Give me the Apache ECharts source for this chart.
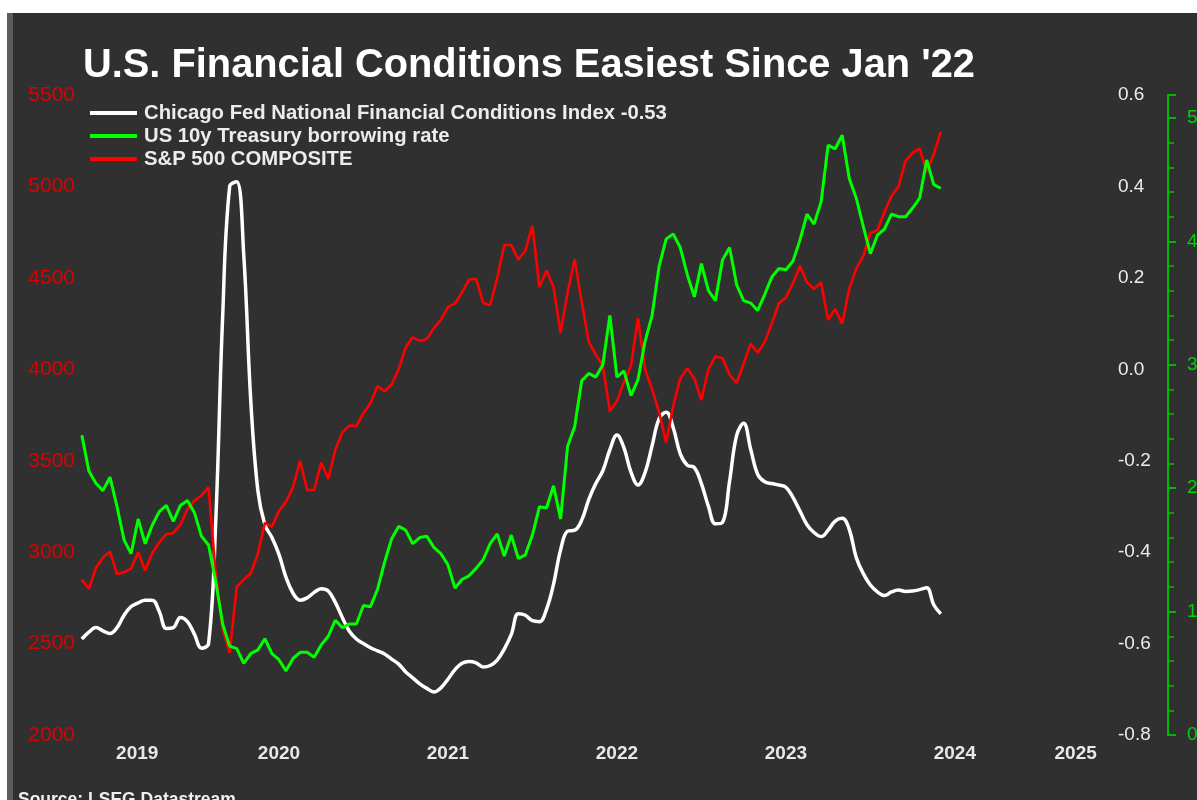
<!DOCTYPE html>
<html><head><meta charset="utf-8">
<script src="https://cdn.jsdelivr.net/npm/echarts/dist/echarts.min.js"></script>
<style>
html,body{margin:0;padding:0;background:#fff;width:1197px;height:800px;overflow:hidden}
#panel{position:absolute;left:7px;top:13px;width:1190px;height:787px;background:#303030;box-sizing:border-box;border-left:6px solid #5c5c5c}
#chart{position:absolute;left:0;top:0;width:1197px;height:800px}
</style></head><body>
<div id="panel"></div><div id="chart"></div>
<script>
// first observation: start of May 2019, half-monthly steps
const START_YEAR = 2019, START_MONTH = 5, STEPS_PER_YEAR = 24;
const X_MIN = 2019.3225, X_MAX = 2025.43;
const X_LABEL_YEARS = [2019, 2020, 2021, 2022, 2023, 2024, 2025];

const SERIES_NAMES = [
  'Chicago Fed National Financial Conditions Index -0.53',
  'US 10y Treasury borrowing rate',
  'S&P 500 COMPOSITE'
];

const SP500 = [
  2850, 2800, 2913, 2970, 3003, 2880, 2890, 2910, 3000, 2900,
  2995, 3053, 3098, 3105, 3150, 3235, 3281, 3310, 3355, 2890,
  2580, 2450, 2810, 2850, 2885, 2990, 3160, 3140, 3225, 3275,
  3355, 3500, 3340, 3340, 3490, 3400, 3560, 3655, 3692, 3690,
  3760, 3815, 3908, 3880, 3915, 4000, 4120, 4175, 4155, 4165,
  4225, 4270, 4340, 4360, 4420, 4490, 4495, 4363, 4350, 4500,
  4680, 4680, 4600, 4650, 4784, 4450, 4540, 4450, 4200, 4420,
  4600, 4370, 4150, 4080, 4020, 3770, 3825, 3930, 4020, 4280,
  4000, 3890, 3765, 3600, 3800, 3950, 4005, 3950, 3832, 4000,
  4070, 4060, 3970, 3925, 4030, 4140, 4090, 4150, 4250, 4360,
  4392, 4470, 4565, 4475, 4440, 4475, 4270, 4330, 4250, 4440,
  4550, 4620, 4745, 4760, 4860, 4948, 5000, 5140, 5183, 5207,
  5080, 5175, 5298
];

const YIELD10 = [
  2.43, 2.14, 2.04, 1.98, 2.09, 1.85, 1.58, 1.47, 1.75, 1.55,
  1.70, 1.81, 1.86, 1.73, 1.86, 1.90, 1.80, 1.61, 1.54, 1.25,
  0.90, 0.72, 0.70, 0.58, 0.66, 0.69, 0.78, 0.66, 0.61, 0.52,
  0.62, 0.67, 0.67, 0.63, 0.73, 0.80, 0.93, 0.87, 0.90, 0.90,
  1.05, 1.04, 1.18, 1.40, 1.59, 1.69, 1.66, 1.55, 1.60, 1.61,
  1.52, 1.47, 1.38, 1.19, 1.26, 1.29, 1.35, 1.42, 1.55, 1.63,
  1.45, 1.62, 1.43, 1.46, 1.62, 1.85, 1.84, 2.02, 1.75, 2.34,
  2.50, 2.87, 2.93, 2.90, 3.00, 3.40, 2.90, 2.95, 2.75, 2.88,
  3.19, 3.40, 3.80, 4.02, 4.06, 3.95, 3.73, 3.55, 3.82, 3.60,
  3.52, 3.85, 3.95, 3.65, 3.52, 3.50, 3.44, 3.57, 3.71, 3.78,
  3.77, 3.84, 4.01, 4.22, 4.14, 4.32, 4.78, 4.75, 4.86, 4.51,
  4.35, 4.12, 3.90, 4.05, 4.10, 4.22, 4.20, 4.20, 4.27, 4.35,
  4.66, 4.46, 4.43
];

const NFCI = [
  -0.590, -0.575, -0.565, -0.572, -0.578, -0.565, -0.538, -0.519, -0.511, -0.505,
  -0.505, -0.530, -0.567, -0.565, -0.543, -0.552, -0.580, -0.610, -0.600, -0.340,
  0.115, 0.400, 0.410, 0.250, -0.070, -0.265, -0.340, -0.368, -0.405, -0.455,
  -0.490, -0.505, -0.500, -0.488, -0.480, -0.485, -0.510, -0.543, -0.573, -0.590,
  -0.600, -0.609, -0.616, -0.623, -0.634, -0.645, -0.662, -0.675, -0.688, -0.698,
  -0.706, -0.697, -0.678, -0.657, -0.643, -0.639, -0.642, -0.651, -0.648, -0.636,
  -0.612, -0.580, -0.535, -0.538, -0.550, -0.552, -0.525, -0.470, -0.395, -0.354,
  -0.352, -0.330, -0.285, -0.250, -0.222, -0.176, -0.144, -0.172, -0.225, -0.253,
  -0.226, -0.167, -0.108, -0.094, -0.128, -0.185, -0.210, -0.215, -0.250, -0.300,
  -0.338, -0.335, -0.245, -0.145, -0.118, -0.175, -0.230, -0.246, -0.250, -0.253,
  -0.258, -0.280, -0.310, -0.340, -0.357, -0.366, -0.352, -0.332, -0.326, -0.350,
  -0.412, -0.447, -0.472, -0.487, -0.495, -0.487, -0.483, -0.486, -0.485, -0.482,
  -0.478, -0.515, -0.535
];

const FONT = "'Liberation Sans', Arial, sans-serif";
const t0 = START_YEAR + (START_MONTH - 1) / 12;
const toPairs = arr => arr.map((v, i) => [t0 + i / STEPS_PER_YEAR, v]);

// label at centre of the visible part of each year
const xLabelValues = X_LABEL_YEARS.map(y => (Math.max(y, X_MIN) + Math.min(y + 1, X_MAX)) / 2);

const chart = echarts.init(document.getElementById('chart'), null, {renderer: 'canvas'});
chart.setOption({
  backgroundColor: 'transparent',
  animation: false,
  textStyle: {fontFamily: FONT},
  title: [
    {text: "U.S. Financial Conditions Easiest Since Jan '22", left: 78, top: 41,
     textStyle: {color: '#ffffff', fontSize: 39.8, fontWeight: 'bold', fontFamily: FONT}},
    {text: 'Source: LSEG Datastream', left: 13, top: 786,
     textStyle: {color: '#f0f0f0', fontSize: 17.5, fontWeight: 'bold', fontFamily: FONT}}
  ],
  legend: {
    orient: 'vertical', left: 85, top: 98, itemWidth: 47, itemHeight: 4, itemGap: 3,
    icon: 'rect', data: SERIES_NAMES,
    textStyle: {color: '#ececec', fontSize: 20.3, lineHeight: 20, fontWeight: 'bold', fontFamily: FONT,
      padding: [0, 0, 0, 2]}
  },
  grid: {left: 80, right: 85, top: 95, bottom: 65, containLabel: false, outerBoundsMode: 'none'},
  xAxis: {
    type: 'value', min: X_MIN, max: X_MAX,
    axisLine: {show: false}, axisTick: {show: false}, splitLine: {show: false},
    axisLabel: {customValues: xLabelValues, formatter: v => String(Math.floor(v)),
      color: '#e8e8e8', fontSize: 19, fontWeight: 'bold', margin: 9, fontFamily: FONT}
  },
  yAxis: [
    {type: 'value', position: 'left', min: 2000, max: 5500, interval: 500,
     axisLine: {show: false}, axisTick: {show: false}, splitLine: {show: false},
     axisLabel: {color: '#dc0000', fontSize: 21, margin: 5, fontFamily: FONT, formatter: v => String(v)}},
    {type: 'value', position: 'right', min: -0.8, max: 0.6, interval: 0.2,
     axisLine: {show: false}, axisTick: {show: false}, splitLine: {show: false},
     axisLabel: {color: '#ececec', fontSize: 19, margin: 6, fontFamily: FONT,
       formatter: v => Math.abs(v) < 1e-9 ? '0.0' : v.toFixed(1)}},
    {type: 'value', position: 'right', offset: 56, min: 0, max: 5.186, interval: 1,
     axisLine: {show: true, lineStyle: {color: '#00b800', width: 2}},
     axisTick: {show: true, length: 8, lineStyle: {color: '#00b800', width: 2}},
     minorTick: {show: true, splitNumber: 5, length: 6, lineStyle: {color: '#00b800', width: 1.5}},
     splitLine: {show: false},
     axisLabel: {color: '#00d400', fontSize: 19, margin: 19, fontFamily: FONT, showMaxLabel: false}}
  ],
  series: [
    {name: SERIES_NAMES[0], type: 'line', yAxisIndex: 1, data: toPairs(NFCI),
     showSymbol: false, smooth: 0.4, color: '#ffffff', lineStyle: {width: 3.5, color: '#ffffff'}, z: 2},
    {name: SERIES_NAMES[2], type: 'line', yAxisIndex: 0, data: toPairs(SP500),
     showSymbol: false, color: '#ff0000', lineStyle: {width: 2.6, color: '#ff0000'}, z: 3},
    {name: SERIES_NAMES[1], type: 'line', yAxisIndex: 2, data: toPairs(YIELD10),
     showSymbol: false, color: '#00ff00', lineStyle: {width: 3, color: '#00ff00'}, z: 4}
  ]
});
</script>
</body></html>
